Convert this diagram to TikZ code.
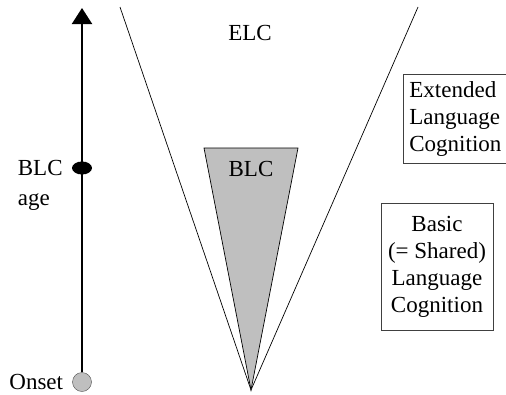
\documentclass[tikz,border=0pt]{standalone}
\usepackage{fontspec}
\setmainfont{Liberation Serif}
\usetikzlibrary{positioning,arrows.meta,shapes.geometric}
\tikzset{box/.style={draw=black!75,line width=0.8pt,align=center,font=\fontsize{23}{27}\selectfont},
         txt/.style={font=\fontsize{23}{27}\selectfont,inner sep=0pt},
         cone/.style={draw,line width=0.7pt}
}
\tikzstyle{arrow} = [line width=2pt,-{Triangle[width=20pt,length=16pt]}]

\begin{document}
\begin{tikzpicture}[x=1pt,y=-1pt]
\useasboundingbox (0,0) rectangle (506,394);

\coordinate (apex) at (251,390);
\coordinate (elcleft) at (120,7);
\coordinate (elcright) at (418,7);
\coordinate (blcleft) at (204,148);
\coordinate (blcright) at (298,148);
\coordinate (top) at (82,8);

% the two cones
\draw[cone] (elcleft) -- (apex) -- (elcright);
\draw[cone,fill=black!25] (blcleft) -- (blcright) -- (apex) -- cycle;
\node[txt] (elc) at (250,33) {ELC};
\node[txt] (blc) at (251,169) {BLC};

% age axis
\node[circle,draw=black!70,fill=black!25,minimum size=19pt,inner sep=0pt] (onset) at (82,382) {};
\draw[arrow] (onset) -- (top);
\node[ellipse,fill=black,minimum width=20pt,minimum height=13pt,inner sep=0pt] (blcage) at (82,168) {};
\node[txt,left=9pt of blcage] (blclabel) {BLC};
\node[txt,anchor=base west] (agelabel) at ([yshift=-30pt]blclabel.base west) {age};
\node[txt,left=9pt of onset] (onsetlabel) {Onset};

% legend boxes (the first one runs off the right edge)
\begin{scope}
\clip (0,0) rectangle (506,394);
\node[box,anchor=west,align=left,text width=150pt,inner xsep=6pt,inner ysep=7pt] (extended) at (403,119) {Extended\\Language\\Cognition};
\end{scope}
\node[box,minimum width=112pt,minimum height=127pt,inner sep=2pt] (basic) at (437,266.5) {Basic\\(= Shared)\\Language\\Cognition};

\end{tikzpicture}
\end{document}
